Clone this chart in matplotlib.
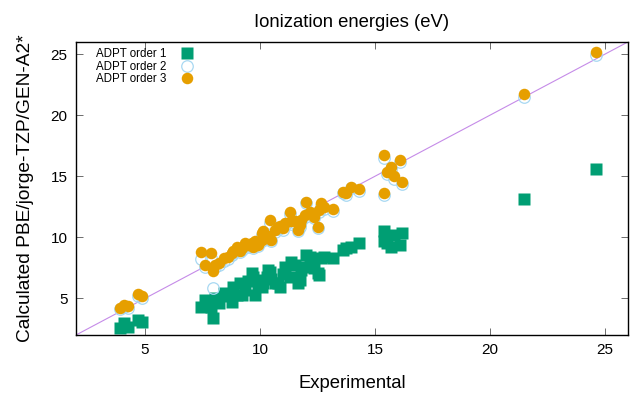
import numpy as np
import matplotlib
matplotlib.use('Agg')
import matplotlib.pyplot as plt

plt.rcParams['font.family'] = ['Liberation Sans', 'DejaVu Sans']

# experimental ionization energies (eV), shared by all three series
exp_ie = [3.90, 4.10, 4.25, 4.70, 4.87, 7.42, 7.63, 7.88, 7.95, 8.06,
          8.20, 8.42, 8.60, 8.78, 8.85, 9.00, 9.14, 9.21, 9.36, 9.50,
          9.64, 9.72, 9.79, 9.90, 10.07, 10.08, 10.15, 10.29, 10.36, 10.43,
          10.50, 10.65, 10.79, 10.86, 11.01, 11.08, 11.29, 11.37, 11.51, 11.66,
          11.73, 11.80, 11.94, 12.01, 12.16, 12.37, 12.52, 12.59, 12.66, 12.80,
          13.16, 13.60, 13.73, 13.95, 14.31, 15.39, 15.40, 15.53, 15.68, 15.82,
          16.10, 16.18, 21.50, 24.60]

order1 = [2.55, 2.96, 2.68, 3.23, 3.04, 4.32, 4.87, 4.32, 3.36, 5.00,
          4.60, 5.41, 5.20, 4.73, 5.96, 5.30, 6.23, 5.28, 5.69, 6.40,
          7.06, 6.78, 5.28, 6.00, 5.96, 6.50, 6.30, 6.78, 7.33, 7.19,
          6.60, 6.23, 6.23, 5.96, 7.00, 7.60, 6.78, 8.01, 7.74, 6.23,
          6.50, 7.30, 7.60, 8.56, 8.40, 7.50, 7.06, 6.90, 8.29, 8.42,
          8.29, 9.00, 9.10, 9.24, 9.50, 10.48, 9.70, 9.50, 9.24, 10.20,
          9.38, 10.34, 13.10, 15.60]

order2 = [4.10, 4.30, 4.20, 5.20, 5.05, 8.20, 7.60, 8.30, 5.82, 7.60,
          7.75, 8.10, 8.20, 8.55, 8.70, 9.05, 8.80, 8.95, 9.30, 9.20,
          9.40, 9.10, 9.50, 9.30, 10.20, 9.70, 10.30, 9.95, 9.90, 11.20,
          9.70, 10.45, 10.70, 10.75, 10.60, 11.00, 11.95, 11.10, 11.15, 10.50,
          10.85, 11.30, 11.70, 12.80, 12.00, 11.55, 10.75, 12.05, 12.60, 12.35,
          12.15, 13.60, 13.45, 14.00, 13.80, 16.50, 13.45, 15.20, 15.60, 14.80,
          16.15, 14.40, 21.50, 24.90]

order3 = [4.20, 4.45, 4.35, 5.35, 5.20, 8.83, 7.74, 8.70, 7.25, 7.74,
          7.90, 8.29, 8.40, 8.70, 8.90, 9.24, 8.90, 9.10, 9.51, 9.38,
          9.50, 9.24, 9.66, 9.40, 10.34, 9.79, 10.48, 10.10, 10.07, 11.43,
          9.79, 10.61, 10.88, 10.90, 10.75, 11.20, 12.11, 11.30, 11.30, 10.61,
          11.00, 11.43, 11.84, 12.93, 12.11, 11.70, 10.88, 12.20, 12.79, 12.52,
          12.30, 13.75, 13.61, 14.16, 13.94, 16.75, 13.61, 15.39, 15.80, 15.00,
          16.34, 14.57, 21.70, 25.20]

diag = [2, 26]

fig = plt.figure(figsize=(6.3, 3.96), dpi=100)
ax = fig.add_axes([0.1206, 0.154, 0.876, 0.74])

ax.plot(diag, diag, color='#c58be8', lw=0.8, zorder=1)
ax.plot(exp_ie, order1, 's', color='#009e73', ms=8.5, mec='none',
        label='ADPT order 1', zorder=2)
ax.plot(exp_ie, order2, 'o', mfc='none', mec='#a8d8f2', mew=0.9, ms=8.3,
        label='ADPT order 2', zorder=3)
ax.plot(exp_ie, order3, 'o', color='#e69f00', ms=8.3, mec='none',
        label='ADPT order 3', zorder=4)

ax.set_xlim(2, 26)
ax.set_ylim(2, 26)
ax.set_xticks([5, 10, 15, 20, 25])
ax.set_yticks([5, 10, 15, 20, 25])
ax.tick_params(direction='in', top=True, right=True, length=5, width=0.6,
               color='#555555', labelsize=11, pad=6)
for s in ax.spines.values():
    s.set_linewidth(1.0)

ax.set_title('Ionization energies (eV)', fontsize=13.3, pad=11)
ax.set_xlabel('Experimental', fontsize=13.3, labelpad=13)
ax.set_ylabel('Calculated PBE/jorge-TZP/GEN-A2*', fontsize=13.8, labelpad=12)

ax.legend(loc='upper left', bbox_to_anchor=(0.02, 1.01), frameon=False,
          markerfirst=False, fontsize=8.3, labelspacing=0.05,
          handletextpad=1.0, handlelength=1.5, borderpad=0.3)

fig.savefig('out.png', dpi=100)
